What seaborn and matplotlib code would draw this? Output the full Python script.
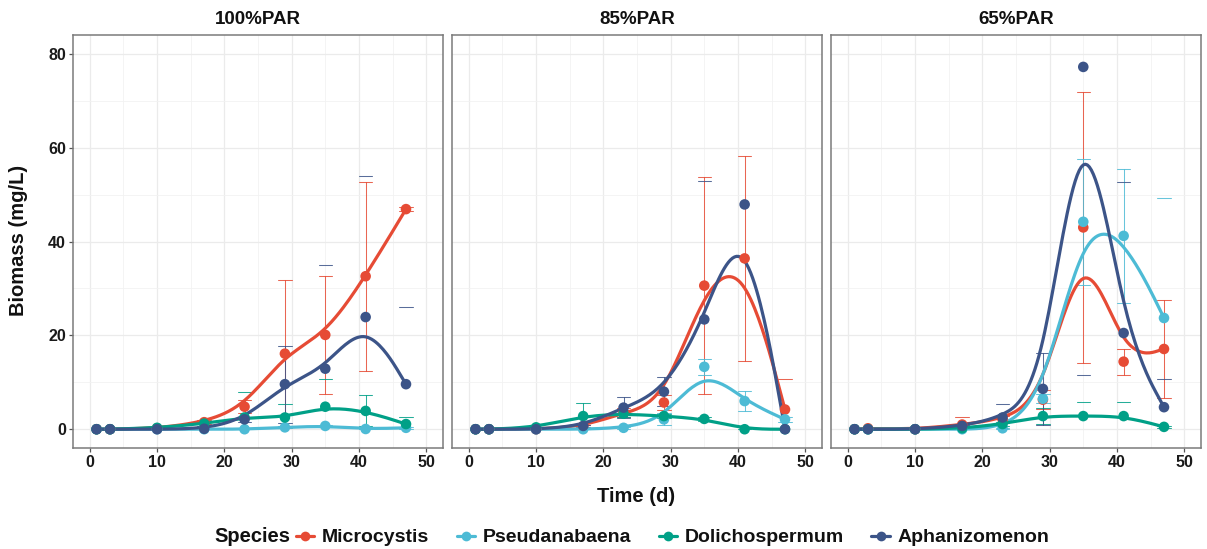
import numpy as np
import pandas as pd
import matplotlib
matplotlib.use("Agg")
import matplotlib.pyplot as plt
from matplotlib.lines import Line2D
import seaborn as sns

# ---------------- data ----------------
DAYS = [1, 3, 10, 17, 23, 29, 35, 41, 47]
PANELS = ["100%PAR", "85%PAR", "65%PAR"]
SPECIES = ["Microcystis", "Pseudanabaena", "Dolichospermum", "Aphanizomenon"]
COLORS = ["#E64B35", "#4DBBD5", "#00A087", "#3C5488"]

# 100% PAR  (mean, sd)
MIC_100 = [0, 0, 0.2, 1.5, 4.8, 16.1, 20.1, 32.6, 46.9]
MIC_100_SD = [0, 0, 0.1, 0.4, 1.4, 15.8, 12.5, 20.1, 0.5]
PSE_100 = [0, 0, 0, 0, 0, 0.4, 0.7, 0.05, 0.3]
PSE_100_SD = [0, 0, 0, 0, 0, 0.2, 0.3, 0.05, 0.2]
DOL_100 = [0, 0, 0.3, 1.2, 2.5, 2.5, 4.8, 3.9, 1.1]
DOL_100_SD = [0, 0, 0.1, 0.5, 5.4, 2.8, 6.0, 3.3, 1.4]
APH_100 = [0, 0, 0, 0.1, 2.1, 9.6, 12.9, 23.9, 9.6]
APH_100_SD = [0, 0, 0, 0.1, 0.5, 8.2, 22.0, 30.1, 16.5]

# 85% PAR
MIC_85 = [0, 0, 0, 0.6, 3.5, 5.7, 30.6, 36.4, 4.2]
MIC_85_SD = [0, 0, 0, 0.3, 1.0, 1.5, 23.2, 21.9, 6.4]
PSE_85 = [0, 0, 0, 0, 0.3, 2.1, 13.3, 6.0, 2.1]
PSE_85_SD = [0, 0, 0, 0, 0.2, 1.3, 1.7, 2.1, 0.5]
DOL_85 = [0, 0, 0.4, 2.8, 3.3, 2.8, 2.2, 0, 0]
DOL_85_SD = [0, 0, 0.1, 2.8, 0.8, 0.5, 0.4, 0.1, 0]
APH_85 = [0, 0, 0, 0.7, 4.6, 8.0, 23.4, 47.9, 0]
APH_85_SD = [0, 0, 0, 0.3, 2.3, 3.1, 29.5, 50.0, 0]

# 65% PAR
MIC_65 = [0, 0.2, 0, 1.0, 2.1, 6.3, 43.0, 14.4, 17.1]
MIC_65_SD = [0, 0.1, 0, 1.6, 0.8, 2.0, 28.8, 2.8, 10.4]
PSE_65 = [0, 0, 0, 0, 0.2, 6.5, 44.2, 41.2, 23.7]
PSE_65_SD = [0, 0, 0, 0, 0.1, 1.0, 13.4, 14.3, 25.5]
DOL_65 = [0, 0, 0, 0.2, 1.1, 2.8, 2.8, 2.8, 0.5]
DOL_65_SD = [0, 0, 0, 0.1, 0.5, 1.7, 2.9, 2.9, 0.2]
APH_65 = [0, 0, 0, 0.7, 2.5, 8.6, 77.2, 20.5, 4.7]
APH_65_SD = [0, 0, 0, 0.3, 2.9, 7.7, 65.7, 32.1, 6.1]

MEANS = {
    "100%PAR": [MIC_100, PSE_100, DOL_100, APH_100],
    "85%PAR": [MIC_85, PSE_85, DOL_85, APH_85],
    "65%PAR": [MIC_65, PSE_65, DOL_65, APH_65],
}
SDS = {
    "100%PAR": [MIC_100_SD, PSE_100_SD, DOL_100_SD, APH_100_SD],
    "85%PAR": [MIC_85_SD, PSE_85_SD, DOL_85_SD, APH_85_SD],
    "65%PAR": [MIC_65_SD, PSE_65_SD, DOL_65_SD, APH_65_SD],
}

YLIM = (0, 80)

rows = []
for p in PANELS:
    for sp, m, s in zip(SPECIES, MEANS[p], SDS[p]):
        for d, mv, sv in zip(DAYS, m, s):
            rows.append(dict(Panel=p, Species=sp, Time=d, Biomass=mv, SD=sv))
df = pd.DataFrame(rows)


def xspline_like(px, py, seg_pts=20):
    """Uniform cubic B-spline (x-spline, shape 1) with end points repeated,
    so the curve starts and ends on the first and last means."""
    P = np.column_stack([np.asarray(px, float), np.asarray(py, float)])
    ext = np.vstack([P[:1], P[:1], P, P[-1:], P[-1:]])
    out = []
    nseg = len(ext) - 3
    for i in range(nseg):
        ts = np.linspace(0, 1, seg_pts, endpoint=(i == nseg - 1))
        for t in ts:
            b0 = (1 - t) ** 3
            b1 = 3 * t ** 3 - 6 * t ** 2 + 4
            b2 = -3 * t ** 3 + 3 * t ** 2 + 3 * t + 1
            b3 = t ** 3
            out.append((b0 * ext[i] + b1 * ext[i + 1] + b2 * ext[i + 2] + b3 * ext[i + 3]) / 6)
    out = np.array(out)
    return out[:, 0], out[:, 1]


srows = []
for p in PANELS:
    for sp in SPECIES:
        sub = df[(df.Panel == p) & (df.Species == sp)]
        cx, cy = xspline_like(sub.Time.values, sub.Biomass.values)
        for a, b in zip(cx, cy):
            srows.append(dict(Panel=p, Species=sp, Time=a, Biomass=b))
sdf = pd.DataFrame(srows)

# ---------------- style ----------------
sns.set_theme(style="white")
plt.rcParams["font.family"] = ["Liberation Sans", "DejaVu Sans"]
palette = dict(zip(SPECIES, COLORS))

fig = plt.figure(figsize=(12.07, 5.49), dpi=100)
W, H = 1207, 549
lefts = [73, 452, 831]
pw, top, bottom = 370, 35, 448

for i, p in enumerate(PANELS):
    ax = fig.add_axes([lefts[i] / W, (H - bottom) / H, pw / W, (bottom - top) / H])
    ax.set_xlim(-2.5, 52.5)
    ax.set_ylim(-4, 84)
    ax.set_xticks(np.arange(0, 51, 10))
    ax.set_xticks(np.arange(5, 51, 10), minor=True)
    ax.set_yticks(np.arange(0, 81, 20))
    ax.set_yticks(np.arange(10, 81, 20), minor=True)
    ax.grid(which="major", color="#ebebeb", linewidth=0.9)
    ax.grid(which="minor", color="#f2f2f2", linewidth=0.6)
    ax.set_axisbelow(True)
    for sp_ in ax.spines.values():
        sp_.set_color("#7a7a7a")
        sp_.set_linewidth(1.1)

    sub = df[df.Panel == p]
    # error bars (ggplot-like: out-of-range ends dropped)
    for sp, col in zip(SPECIES, COLORS):
        s2 = sub[sub.Species == sp]
        for t, m, s in zip(s2.Time, s2.Biomass, s2.SD):
            if s <= 0:
                continue
            lo, hi = m - s, m + s
            lo_ok = YLIM[0] <= lo <= YLIM[1]
            hi_ok = YLIM[0] <= hi <= YLIM[1]
            kw = dict(color=col, linewidth=0.75, alpha=0.85, zorder=2)
            if lo_ok and hi_ok:
                ax.plot([t, t], [lo, hi], **kw)
            if lo_ok:
                ax.plot([t - 1, t + 1], [lo, lo], **kw)
            if hi_ok:
                ax.plot([t - 1, t + 1], [hi, hi], **kw)

    sns.lineplot(data=sdf[sdf.Panel == p], x="Time", y="Biomass", hue="Species",
                 hue_order=SPECIES, palette=palette, linewidth=2.3, ax=ax,
                 legend=False, sort=False, estimator=None, zorder=3)
    sns.scatterplot(data=sub, x="Time", y="Biomass", hue="Species",
                    hue_order=SPECIES, palette=palette, s=58, linewidth=0,
                    ax=ax, legend=False, zorder=4)

    ax.set_title(p, fontsize=13.5, fontweight="bold", pad=8, color="#111111")
    ax.set_xlabel("")
    ax.set_ylabel("")
    ax.tick_params(axis="both", which="major", length=3, width=0.9, color="#555555",
                   labelsize=11.5, labelcolor="#1a1a1a", pad=2, bottom=True, left=True)
    ax.tick_params(which="minor", length=0)
    for lab in ax.get_xticklabels() + ax.get_yticklabels():
        lab.set_fontweight("bold")
    if i > 0:
        ax.tick_params(axis="y", left=False, labelleft=False)

fig.text(19 / W, 1 - 240 / H, "Biomass (mg/L)", rotation=90, ha="center", va="center",
         fontsize=14.5, fontweight="bold", color="#111111")
fig.text(636 / W, 1 - 496 / H, "Time (d)", ha="center", va="center",
         fontsize=14.5, fontweight="bold", color="#111111")

fig.text(214 / W, 1 - 537 / H, "Species", ha="left", va="center",
         fontsize=14.5, fontweight="bold", color="#111111")
handles = [Line2D([0], [0], color=c, lw=2.3, marker="o", markersize=7,
                  markeredgewidth=0) for c in COLORS]
leg = fig.legend(handles, SPECIES, loc="center left",
                 bbox_to_anchor=(296 / W, 1 - 537 / H), ncol=4, frameon=False,
                 handlelength=1.2, handletextpad=0.5, columnspacing=1.8,
                 borderaxespad=0, borderpad=0)
for t in leg.get_texts():
    t.set_fontweight("bold")
    t.set_fontsize(14)
    t.set_color("#111111")

fig.savefig("out.png", dpi=100)
